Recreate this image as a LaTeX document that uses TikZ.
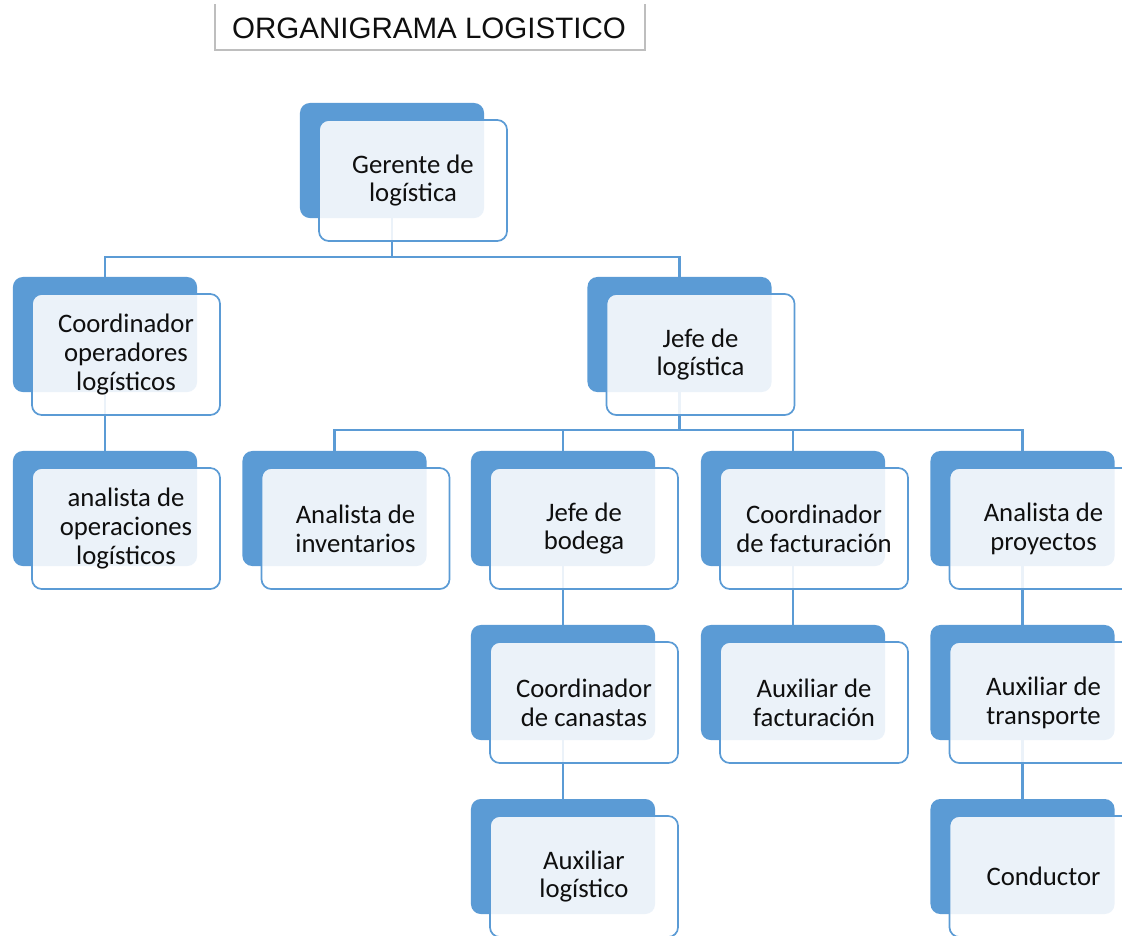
\documentclass[tikz,border=0pt]{standalone}
\usepackage{fontspec}
\setmainfont{Carlito}
\newfontfamily\titlefont{Liberation Sans}
\usetikzlibrary{calc,positioning,backgrounds}
\usepackage{xcolor}
\definecolor{orgblue}{RGB}{91,155,213}
\definecolor{orgtext}{RGB}{15,15,15}
\definecolor{orgframe}{RGB}{190,190,190}

\tikzset{
  backbox/.style={fill=orgblue, rounded corners=7pt, inner sep=0pt,
    minimum width=4.6cm, minimum height=2.875cm},
  frontbox/.style={draw=orgblue, line width=1.2pt, fill=white,
    fill opacity=0.88, text opacity=1, rounded corners=7pt,
    minimum width=4.7cm, minimum height=3.025cm, align=center,
    text=orgtext, font=\fontsize{19}{20.5}\selectfont},
  link/.style={orgblue, line width=1.6pt}
}

\begin{document}
\begin{tikzpicture}[x=0.025cm, y=-0.025cm]
  \useasboundingbox (0,0) rectangle (1122,935);

  % title
  \node[font=\titlefont\fontsize{21}{25}\selectfont, text=orgtext]
    (title) at (429,28) {ORGANIGRAMA LOGISTICO};
  \draw[orgframe, line width=1.2pt] (215,4) -- (215,50) -- (645,50) -- (645,4);

  % back boxes
  \node[backbox] (ger)  at (392,160.5) {};
  \node[backbox] (coop) at (105,334.5) {};
  \node[backbox] (jefl) at (679.5,334.5) {};
  \node[backbox] (anop) at (105,508.5) {};
  \node[backbox] (ainv) at (334.5,508.5) {};
  \node[backbox] (jbod) at (563,508.5) {};
  \node[backbox] (cfac) at (793,508.5) {};
  \node[backbox] (apro) at (1022.5,508.5) {};
  \node[backbox] (ccan) at (563,682.5) {};
  \node[backbox] (afac) at (793,682.5) {};
  \node[backbox] (atra) at (1022.5,682.5) {};
  \node[backbox] (alog) at (563,856.5) {};
  \node[backbox] (cond) at (1022.5,856.5) {};

  % connectors, behind the boxes
  \begin{scope}[on background layer]
    \draw[link] (ger.south) -- ++(0,39) -| (coop.north);
    \draw[link] (ger.south) -- ++(0,39) -| (jefl.north);
    \draw[link] (coop.south) -- (anop.north);
    \foreach \kid in {ainv,jbod,cfac,apro}
      \draw[link] (jefl.south) -- ++(0,38) -| (\kid.north);
    \draw[link] (jbod.south) -- (ccan.north);
    \draw[link] (ccan.south) -- (alog.north);
    \draw[link] (cfac.south) -- (afac.north);
    \draw[link] (apro.south) -- (atra.north);
    \draw[link] (atra.south) -- (cond.north);
  \end{scope}

  % front boxes
  \node[frontbox] (gerF)  at ($(ger)+(21,20)$)  {Gerente de\\logística};
  \node[frontbox] (coopF) at ($(coop)+(21,20)$) {Coordinador\\operadores\\logísticos};
  \node[frontbox] (jeflF) at ($(jefl)+(21,20)$) {Jefe de\\logística};
  \node[frontbox] (anopF) at ($(anop)+(21,20)$) {analista de\\operaciones\\logísticos};
  \node[frontbox] (ainvF) at ($(ainv)+(21,20)$) {Analista de\\inventarios};
  \node[frontbox] (jbodF) at ($(jbod)+(21,20)$) {Jefe de\\bodega};
  \node[frontbox] (cfacF) at ($(cfac)+(21,20)$) {Coordinador\\de facturación};
  \node[frontbox] (aproF) at ($(apro)+(21,20)$) {Analista de\\proyectos};
  \node[frontbox] (ccanF) at ($(ccan)+(21,20)$) {Coordinador\\de canastas};
  \node[frontbox] (afacF) at ($(afac)+(21,20)$) {Auxiliar de\\facturación};
  \node[frontbox] (atraF) at ($(atra)+(21,20)$) {Auxiliar de\\transporte};
  \node[frontbox] (alogF) at ($(alog)+(21,20)$) {Auxiliar\\logístico};
  \node[frontbox] (condF) at ($(cond)+(21,20)$) {Conductor};
\end{tikzpicture}
\end{document}
